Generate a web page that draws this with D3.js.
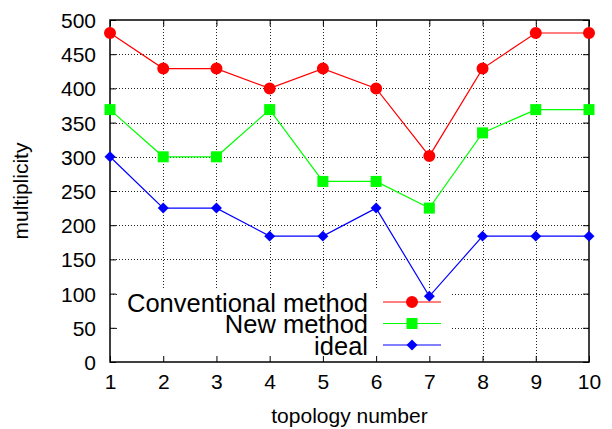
<!doctype html>
<html>
<head>
<meta charset="utf-8">
<script src="https://cdn.jsdelivr.net/npm/d3@7"></script>
<style>
  body { margin: 0; background: #fff; }
  svg text { font-family: "Liberation Sans", Arial, sans-serif; fill: #000; }
</style>
</head>
<body>
<div id="main"></div>
<script>
// data
var topology = [1, 2, 3, 4, 5, 6, 7, 8, 9, 10];
var conventional = [481, 429, 429, 400, 429, 400, 301, 429, 481, 481];
var newMethod = [369, 300, 300, 369, 264, 264, 225, 335, 369, 369];
var ideal = [300, 225, 225, 184, 184, 225, 96, 184, 184, 184];
var yTicks = [0, 50, 100, 150, 200, 250, 300, 350, 400, 450, 500];
var seriesNames = ['Conventional method', 'New method', 'ideal'];

var W = 612, H = 429;
var plotL = 110, plotR = 589, plotT = 20, plotB = 362;

var svg = d3.select('#main').append('svg')
  .attr('width', W).attr('height', H);

var x = d3.scaleLinear().domain([1, 10]).range([plotL, plotR]);
var y = d3.scaleLinear().domain([0, 500]).range([plotB, plotT]);

// grid
var grid = svg.append('g').attr('stroke', '#222').attr('stroke-width', 1)
  .attr('stroke-dasharray', '1,2');
grid.selectAll('line.gx').data(topology.slice(1, -1)).enter().append('line')
  .attr('x1', function(d) { return Math.round(x(d)) + 0.5; })
  .attr('x2', function(d) { return Math.round(x(d)) + 0.5; })
  .attr('y1', plotT).attr('y2', plotB);
grid.selectAll('line.gy').data(yTicks.slice(1, -1)).enter().append('line')
  .attr('y1', function(d) { return Math.round(y(d)) + 0.5; })
  .attr('y2', function(d) { return Math.round(y(d)) + 0.5; })
  .attr('x1', plotL).attr('x2', plotR);

// key area hides the grid
svg.append('rect').attr('x', plotL + 8).attr('y', 290)
  .attr('width', 452 - plotL - 8).attr('height', plotB - 290)
  .attr('fill', '#fff');

// axes (gnuplot style: ticks inside, mirrored)
var axB = svg.append('g').attr('transform', 'translate(0,' + plotB + ')')
  .call(d3.axisBottom(x).tickValues(topology).tickSize(-6).tickPadding(12).tickFormat(d3.format('d')));
var axT = svg.append('g').attr('transform', 'translate(0,' + plotT + ')')
  .call(d3.axisTop(x).tickValues(topology).tickSize(-6).tickFormat(''));
var axL = svg.append('g').attr('transform', 'translate(' + plotL + ',0)')
  .call(d3.axisLeft(y).tickValues(yTicks).tickSize(-6).tickPadding(14));
var axR = svg.append('g').attr('transform', 'translate(' + plotR + ',0)')
  .call(d3.axisRight(y).tickValues(yTicks).tickSize(-6).tickFormat(''));
[axB, axT, axL, axR].forEach(function(a) {
  a.select('.domain').remove();
  a.selectAll('.tick line').attr('stroke', '#000');
  a.selectAll('text').style('font-size', '21px').attr('fill', '#000')
    .style('font-family', '"Liberation Sans", Arial, sans-serif');
});
axB.selectAll('text').attr('dy', '0.71em');
axL.selectAll('text').attr('dy', '0.36em');

svg.append('rect').attr('x', plotL).attr('y', plotT)
  .attr('width', plotR - plotL).attr('height', plotB - plotT)
  .attr('fill', 'none').attr('stroke', '#000').attr('stroke-width', 1.5);

// axis titles
svg.append('text').attr('x', (plotL + plotR) / 2).attr('y', 423)
  .attr('text-anchor', 'middle').style('font-size', '21px').text('topology number');
svg.append('text').attr('transform', 'translate(28,' + ((plotT + plotB) / 2) + ') rotate(-90)')
  .attr('text-anchor', 'middle').style('font-size', '21px').text('multiplicity');

// series (diamond = square turned 45 degrees)
var series = [
  { name: seriesNames[0], values: conventional, color: '#ff0000', symbol: d3.symbolCircle, size: 113, rot: 0 },
  { name: seriesNames[1], values: newMethod, color: '#00ff00', symbol: d3.symbolSquare, size: 121, rot: 0 },
  { name: seriesNames[2], values: ideal, color: '#0000ff', symbol: d3.symbolSquare, size: 60, rot: 45 }
];

var line = d3.line()
  .x(function(d, i) { return x(topology[i]); })
  .y(function(d) { return y(d); });

series.forEach(function(s) {
  svg.append('path').datum(s.values)
    .attr('d', line).attr('fill', 'none')
    .attr('stroke', s.color).attr('stroke-width', 1.2);
  svg.selectAll(null).data(s.values).enter().append('path')
    .attr('d', d3.symbol().type(s.symbol).size(s.size))
    .attr('transform', function(d, i) {
      return 'translate(' + x(topology[i]) + ',' + y(d) + ') rotate(' + s.rot + ')';
    })
    .attr('fill', s.color);
});

// key
var key = svg.append('g');
series.forEach(function(s, i) {
  var cy = 302 + i * 21.5;
  key.append('text').attr('x', 368).attr('y', cy + 9.5)
    .attr('text-anchor', 'end').style('font-size', '25.5px').text(s.name);
  key.append('line').attr('x1', 383).attr('x2', 441)
    .attr('y1', cy).attr('y2', cy)
    .attr('stroke', s.color).attr('stroke-width', 1.2);
  key.append('path')
    .attr('d', d3.symbol().type(s.symbol).size(s.size))
    .attr('transform', 'translate(412,' + cy + ') rotate(' + s.rot + ')')
    .attr('fill', s.color);
});
</script>
</body>
</html>
